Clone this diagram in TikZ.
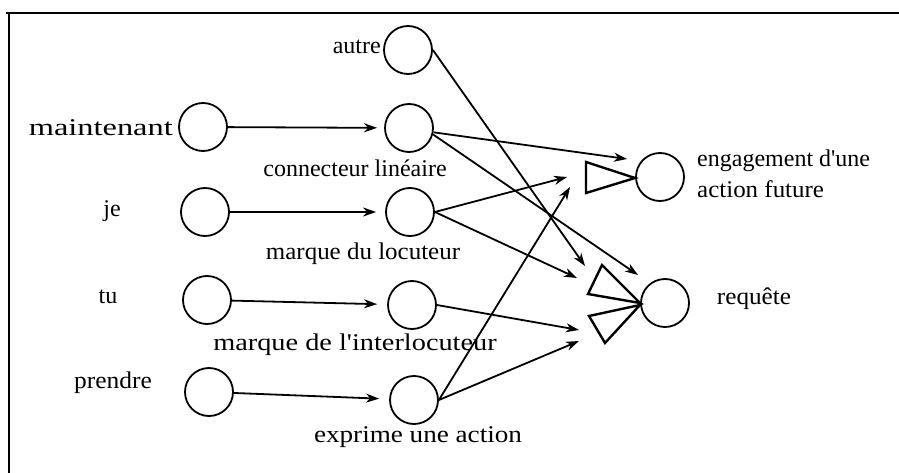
\documentclass[tikz,border=0pt]{standalone}
\usepackage{fontspec}
\newfontfamily\tnr{Liberation Serif}
\usetikzlibrary{arrows.meta}
\newcommand{\hs}[2]{\scalebox{#1}[1]{#2}}
\begin{document}
\begin{tikzpicture}[x=1pt,y=-1pt,
  neuron/.style={draw,circle,line width=1.8pt,minimum width=48pt,minimum height=46pt,inner sep=0pt},
  lab/.style={inner sep=0pt,font=\tnr\fontsize{24}{28}\selectfont},
  conn/.style={line width=1.8pt,-{Stealth[length=13pt,width=9pt,inset=4pt]}},
  tri/.style={line width=2.4pt,line join=miter}]
\useasboundingbox (0,0) rectangle (899,473);
% frame
\draw[line width=2.6pt] (6,13) -- (899,13);
\draw[line width=2.6pt] (9,12) -- (9,473);
% neurons
\node[neuron] (A) at (408,50) {};
\node[neuron] (L1) at (203,127) {};
\node[neuron] (M1) at (409,128) {};
\node[neuron] (L2) at (205,212) {};
\node[neuron] (M2) at (410,212) {};
\node[neuron] (L3) at (207,300) {};
\node[neuron] (M3) at (412,305) {};
\node[neuron] (L4) at (209,392) {};
\node[neuron] (M4) at (414,400) {};
\node[neuron] (E) at (660,177) {};
\node[neuron] (R) at (665,303) {};
% labels
\node[lab,anchor=east] (tA) at (381,47) {autre};
\node[lab,anchor=east] (t1) at (173,128) {\hs{1.35}{maintenant}};
\node[lab] (t2) at (112,211) {je};
\node[lab] (t3) at (108,297) {tu};
\node[lab] (t4) at (113,383) {\hs{1.06}{prendre}};
\node[lab] (m1) at (355,168) {connecteur linéaire};
\node[lab] (m2) at (363,254) {\hs{1.04}{marque du locuteur}};
\node[lab] (m3) at (355,345) {\hs{1.18}{marque de l'interlocuteur}};
\node[lab] (m4) at (418,437) {\hs{1.13}{exprime une action}};
\node[lab,anchor=west,align=left] (tE) at (697,174) {engagement d'une\\[3pt]\hs{1.04}{action future}};
\node[lab] (tR) at (754,299) {\hs{1.05}{requête}};
% triangles
\draw[tri] (586,162) -- (586,193) -- (635,178) -- cycle;
\draw[tri] (602,265) -- (588,294) -- (640,303) -- cycle;
\draw[tri] (589,316) -- (605,343) -- (640,305) -- cycle;
% tips
\coordinate (pA) at (585,266);
\coordinate (p1e) at (627,159);
\coordinate (p1r) at (638,275);
\coordinate (p2e) at (567,177);
\coordinate (p2r) at (577,278);
\coordinate (p3r) at (579,330);
\coordinate (p4e) at (570,187);
\coordinate (p4r) at (579,341);
% connectors
\draw[conn,shorten >=7pt] (L1) -- (M1);
\draw[conn,shorten >=9pt] (L2) -- (M2);
\draw[conn,shorten >=10pt] (L3) -- (M3);
\draw[conn,shorten >=10pt] (L4) -- (M4);
\draw[conn] (A.east) -- (pA);
\draw[conn] (M1.-10) -- (p1e);
\draw[conn] (M1.-15) -- (p1r);
\draw[conn] (M2.east) -- (p2e);
\draw[conn] (M2.east) -- (p2r);
\draw[conn] (M3.east) -- (p3r);
\draw[conn] (M4.east) -- (p4e);
\draw[conn] (M4.east) -- (p4r);
\end{tikzpicture}
\end{document}
